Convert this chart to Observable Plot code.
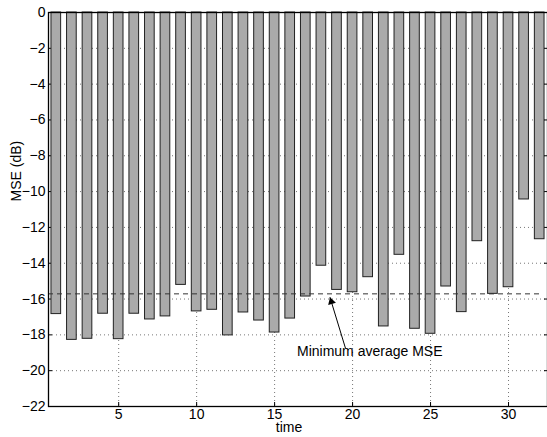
<!DOCTYPE html>
<html>
<head>
<meta charset="utf-8">
<script src="https://cdn.jsdelivr.net/npm/d3@7"></script>
<script src="https://cdn.jsdelivr.net/npm/@observablehq/plot@0.6"></script>
<style>
  html, body { margin: 0; padding: 0; background: #fff; overflow: hidden; }
  svg { display: block; }
</style>
</head>
<body>
<div id="chart"></div>
<script>
const time = [1, 2, 3, 4, 5, 6, 7, 8, 9, 10, 11, 12, 13, 14, 15, 16, 17, 18, 19, 20, 21, 22, 23, 24, 25, 26, 27, 28, 29, 30, 31, 32];
const mse = [-16.84, -18.28, -18.22, -16.82, -18.24, -16.82, -17.14, -16.97, -15.21, -16.69, -16.60, -18.03, -16.75, -17.20, -17.87, -17.09, -15.86, -14.14, -15.49, -15.62, -14.78, -17.53, -13.53, -17.66, -17.94, -15.30, -16.73, -12.77, -15.71, -15.34, -10.44, -12.66];
const minAverageMSE = -15.71;
const xTicks = [5, 10, 15, 20, 25, 30];
const yTicks = [0, -2, -4, -6, -8, -10, -12, -14, -16, -18, -20, -22];
const yGrid = [-2, -4, -6, -8, -10, -12, -14, -16, -18, -20];
const annotationText = "Minimum average MSE";
const arrowFrom = [19.55, -18.76];
const arrowTo = [18.55, -15.9];
const labelAt = [21.1, -18.93];

const data = time.map((t, i) => ({t, v: mse[i]}));
const half = 0.31;
const font = "'Liberation Sans', Arial, Helvetica, sans-serif";

const chart = Plot.plot({
  width: 547,
  height: 437,
  marginLeft: 48,
  marginTop: 12,
  marginBottom: 31,
  marginRight: 0,
  style: {fontFamily: font, fontSize: "14px", color: "#000", background: "#fff"},
  x: {domain: [0.5, 32.5]},
  y: {domain: [-22, 0]},
  marks: [
    Plot.gridX(xTicks, {stroke: "#777", strokeOpacity: 1, strokeDasharray: "1,3"}),
    Plot.gridY(yGrid, {stroke: "#777", strokeOpacity: 1, strokeDasharray: "1,3"}),
    // inward ticks (MATLAB style)
    Plot.axisY(yTicks, {anchor: "left", tickSize: 4, dx: 4, text: null, label: null, stroke: "#000"}),
    Plot.axisY(yTicks, {anchor: "right", tickSize: 4, dx: -4, text: null, label: null, stroke: "#000"}),
    Plot.axisX(xTicks, {anchor: "bottom", tickSize: 4, dy: -4, text: null, label: null, stroke: "#000"}),
    Plot.axisX(xTicks, {anchor: "top", tickSize: 4, dy: 4, text: null, label: null, stroke: "#000"}),
    // tick labels
    Plot.axisY(yTicks, {anchor: "left", tickSize: 0, tickPadding: 3, label: null, tickFormat: d => String(d).replace("-", "\u2212"), fontSize: 14}),
    Plot.axisX(xTicks, {anchor: "bottom", tickSize: 0, tickPadding: 3, label: null, fontSize: 14}),
    // bars
    Plot.rectY(data, {x1: d => d.t - half, x2: d => d.t + half, y1: 0, y2: "v", fill: "#aaaaaa", stroke: "#222", strokeWidth: 1}),
    // minimum average line
    Plot.ruleY([minAverageMSE], {x1: 0.5, x2: 32, stroke: "#333", strokeWidth: 1, strokeDasharray: "5,4"}),
    // annotation arrow: line + filled head
    Plot.link([0], {x1: () => arrowFrom[0], y1: () => arrowFrom[1], x2: () => arrowTo[0], y2: () => arrowTo[1], stroke: "#000", strokeWidth: 1}),
    Plot.dot([0], {x: () => arrowTo[0], y: () => arrowTo[1], symbol: "triangle", r: 3, fill: "#000", stroke: "none", rotate: -17, dx: 1.4, dy: 4.4}),
    Plot.text([annotationText], {x: () => labelAt[0], y: () => labelAt[1], text: d => d, textAnchor: "middle", fontSize: 14, fill: "#000"}),
    // axis labels
    Plot.text(["time"], {frameAnchor: "bottom", text: d => d, dx: -9, dy: 25, fontSize: 14, fill: "#000"}),
    Plot.text(["MSE (dB)"], {frameAnchor: "left", text: d => d, rotate: -90, dx: -32, dy: -8, fontSize: 14, fill: "#000"}),
    Plot.frame({stroke: "#000", strokeWidth: 1.3})
  ]
});
document.getElementById("chart").appendChild(chart);
</script>
</body>
</html>
